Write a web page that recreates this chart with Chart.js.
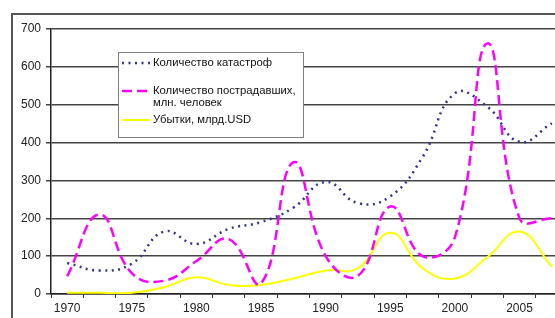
<!DOCTYPE html>
<html><head><meta charset="utf-8">
<script src="https://cdn.jsdelivr.net/npm/chart.js@4.4.1/dist/chart.umd.min.js"></script>
<style>
html,body{margin:0;padding:0;background:#fff;overflow:hidden;width:555px;height:318px;}
#wrap{position:absolute;left:0;top:0;width:590px;height:340px;}
#frame{position:absolute;left:11px;top:13px;width:700px;height:400px;border:2px solid #555;box-sizing:border-box;pointer-events:none;}
</style></head><body>
<div id="frame"></div>
<div id="wrap"><canvas id="c"></canvas></div>
<script>
// Categories (every 2.5 years), tick labels shown on the x axis
const categories = ['1970','1972.5','1975','1977.5','1980','1982.5','1985','1987.5','1990','1992.5','1995','1997.5','2000','2002.5','2005','2007.5'];
const tickLabels = ['1970','','1975','','1980','','1985','','1990','','1995','','2000','','2005',''];
// Series values
const catastrophes = [82, 62, 80, 165, 132, 172, 190, 228, 296, 240, 258, 362, 530, 495, 402, 451];
const victims      = [47, 210, 55, 35, 87, 145, 28, 348, 100, 48, 231, 100, 150, 662, 200, 200];
const losses       = [3, 3, 3, 18, 44, 24, 24, 41, 62, 68, 162, 68, 41, 97, 165, 72];
// Legend texts
const seriesNames = [['Количество катастроф'], ['Количество пострадавших,', 'млн. человек'], ['Убытки, млрд.USD']];
const yTicks = [0, 100, 200, 300, 400, 500, 600, 700];

const FONT = "'Liberation Sans', Arial, sans-serif";
const colors = ['#333399', '#FF00FF', '#FFFF00'];
const dashes = [[2, 4.5], [10, 5], []];
const widths = [2.5, 2.5, 2];

const boxLegend = {
  id: 'boxLegend',
  afterDraw(chart) {
    const ctx = chart.ctx;
    ctx.save();
    const bx = 118.5, by = 52.5, bw = 185, bh = 85;
    ctx.fillStyle = '#fff';
    ctx.fillRect(bx, by, bw, bh);
    ctx.strokeStyle = '#808080';
    ctx.lineWidth = 1;
    ctx.setLineDash([]);
    ctx.strokeRect(bx, by, bw, bh);
    const rows = [63, 91, 120];
    ctx.font = '11.3px ' + FONT;
    ctx.textBaseline = 'middle';
    ctx.textAlign = 'left';
    seriesNames.forEach((lines, i) => {
      const y = rows[i];
      ctx.beginPath();
      ctx.strokeStyle = colors[i];
      ctx.lineWidth = widths[i];
      ctx.setLineDash(dashes[i]);
      ctx.moveTo(122, y);
      ctx.lineTo(150, y);
      ctx.stroke();
      ctx.setLineDash([]);
      ctx.fillStyle = '#111';
      lines.forEach((t, k) => ctx.fillText(t, 153, y + k * 11.5));
    });
    ctx.restore();
  }
};

const names = seriesNames.map(l => l.join(' '));
new Chart(document.getElementById('c'), {
  type: 'line',
  data: {
    labels: categories,
    datasets: [catastrophes, victims, losses].map((d, i) => ({
      label: names[i],
      data: d,
      borderColor: colors[i],
      borderWidth: widths[i],
      borderDash: dashes[i],
      pointRadius: 0,
      fill: false,
      tension: 0.45,
      borderCapStyle: 'butt'
    }))
  },
  options: {
    responsive: true,
    maintainAspectRatio: false,
    animation: false,
    layout: { padding: { top: 29, right: 22, left: 0, bottom: 0 } },
    plugins: { legend: { display: false }, tooltip: { enabled: false } },
    scales: {
      x: {
        offset: true,
        grid: { offset: true, drawOnChartArea: false, drawTicks: true, tickLength: 4, color: '#333', lineWidth: 1 },
        border: { color: '#222', width: 1.5 },
        ticks: {
          autoSkip: false, maxRotation: 0, padding: 3, color: '#222',
          font: { family: FONT, size: 12 },
          callback: (v, i) => tickLabels[i]
        },
        afterFit: s => { s.height = 46; }
      },
      y: {
        min: 0, max: 700,
        afterBuildTicks: s => { s.ticks = yTicks.map(v => ({ value: v })); },
        grid: { color: '#444', lineWidth: 1.5, tickLength: 5, drawTicks: true },
        border: { color: '#222', width: 1.5 },
        ticks: { padding: 5, color: '#222', font: { family: FONT, size: 12 } },
        afterFit: s => { s.width = 51; }
      }
    }
  },
  plugins: [boxLegend]
});
</script>
</body></html>
